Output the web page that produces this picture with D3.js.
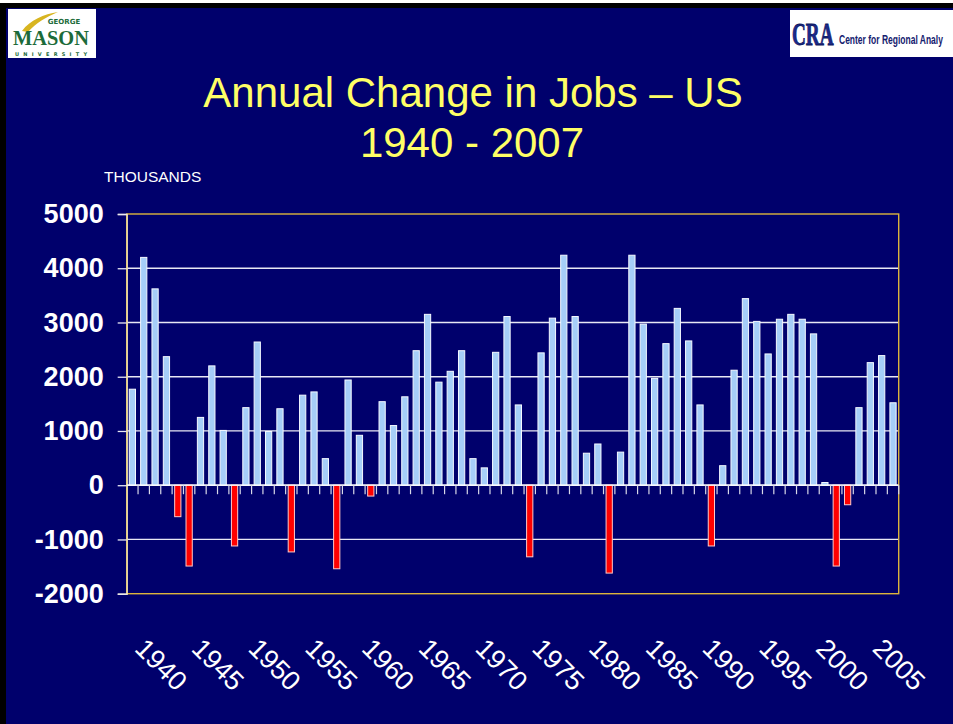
<!doctype html>
<html>
  <head>
    <title>Annual Change in Jobs - US</title>
    <meta charset='UTF-8'>
    <script src="https://d3js.org/d3.v7.min.js"></script>
    <style>
      body { margin: 0; background: #000; }
      svg { display: block; }
      text { font-family: "Liberation Sans", Arial, sans-serif; }
    </style>
  </head>
  <body>
    <svg id='render' width="953" height="724"></svg>
    <script>
      // thousands of jobs, year over year
      const firstYear = 1940;
      const jobChange = [
        1770, 4200, 3620, 2370, -580, -1490, 1250, 2200, 1010, -1120,
        1430, 2640, 990, 1410, -1230, 1660, 1720, 490, -1540, 1940,
        920, -200, 1540, 1100, 1630, 2480, 3150, 1900, 2100, 2480,
        490, 320, 2450, 3110, 1480, -1320, 2440, 3080, 4240, 3110,
        590, 760, -1620, 610, 4240, 2970, 1970, 2610, 3260, 2660,
        1480, -1120, 360, 2120, 3440, 3020, 2420, 3060, 3150, 3060,
        2790, 50, -1490, -360, 1430, 2260, 2390, 1520
      ];
      const years = jobChange.map((v, i) => firstYear + i);
      const yTicks = [-2000, -1000, 0, 1000, 2000, 3000, 4000, 5000];
      const xLabels = [1940, 1945, 1950, 1955, 1960, 1965, 1970, 1975, 1980, 1985, 1990, 1995, 2000, 2005];

      const W = 953, H = 724;
      const plotL = 126.7, plotR = 898.7, plotT = 214, plotB = 593.7;
      const navy = "#00006c";

      const svg = d3.select("#render");
      svg.append("rect").attr("x", 6).attr("y", 8).attr("width", W).attr("height", H).attr("fill", navy);
      svg.append("rect").attr("x", 0).attr("y", 0).attr("width", W).attr("height", 3).attr("fill", "#fff");

      // logos (approximated with text)
      const gmu = svg.append("g");
      gmu.append("rect").attr("x", 8).attr("y", 9).attr("width", 88).attr("height", 49).attr("fill", "#fff");
      gmu.append("path").attr("d", "M22,31 C30,20 44,14 58,12 C46,17 36,23 28,32 Z").attr("fill", "#d8b520");
      gmu.append("text").attr("x", 64).attr("y", 24).attr("text-anchor", "middle")
        .style("font-family", "DejaVu Sans").style("font-size", "7px").style("font-weight", "bold")
        .attr("fill", "#1c6b3a").text("GEORGE");
      gmu.append("text").attr("x", 51).attr("y", 45).attr("text-anchor", "middle")
        .style("font-family", "Liberation Serif").style("font-size", "21px").style("font-weight", "bold")
        .attr("fill", "#1c6b3a").attr("textLength", 76).attr("lengthAdjust", "spacingAndGlyphs").text("MASON");
      gmu.append("text").attr("x", 51).attr("y", 55.5).attr("text-anchor", "middle")
        .style("font-family", "DejaVu Sans").style("font-size", "5px").style("font-weight", "bold")
        .attr("fill", "#1c6b3a").attr("textLength", 72).text("UNIVERSITY");

      const cra = svg.append("g");
      cra.append("rect").attr("x", 790).attr("y", 10).attr("width", 170).attr("height", 47).attr("fill", "#fff");
      cra.append("text").attr("transform", "translate(792,45) scale(0.62,1)")
        .style("font-family", "'Liberation Serif'").style("font-size", "31px").style("font-weight", "bold")
        .attr("fill", "#1a2a8c").attr("stroke", "#0a145a").attr("stroke-width", 0.8)
        .text("CRA");
      cra.append("text").attr("transform", "translate(839,44) scale(0.68,1)")
        .style("font-size", "12.5px").style("font-weight", "bold")
        .attr("fill", "#14206e")
        .text("Center for Regional Analy");

      // title
      svg.append("text").attr("x", 473).attr("y", 107).attr("text-anchor", "middle")
        .style("font-size", "42px").attr("fill", "#ffff66").text("Annual Change in Jobs \u2013 US");
      svg.append("text").attr("x", 472).attr("y", 157).attr("text-anchor", "middle")
        .style("font-size", "42px").attr("fill", "#ffff66").text("1940 - 2007");
      svg.append("text").attr("x", 104).attr("y", 182)
        .style("font-size", "15.5px").attr("fill", "#fff").text("THOUSANDS");

      const x = d3.scaleBand().domain(years).range([plotL, plotR]).paddingInner(0.45).paddingOuter(0.225);
      const y = d3.scaleLinear().domain([-2000, 5000]).range([plotB, plotT]);
      const step = x.step();
      const gap = (step - x.bandwidth()) / 2;

      // gridlines
      svg.append("g").selectAll("line").data(yTicks.filter(t => t > -2000 && t < 5000))
        .enter().append("line")
        .attr("x1", plotL).attr("x2", plotR)
        .attr("y1", d => y(d)).attr("y2", d => y(d))
        .attr("stroke", "#e8e8f4").attr("stroke-width", 1.3);

      // frame
      svg.append("rect").attr("x", plotL).attr("y", plotT).attr("width", plotR - plotL).attr("height", plotB - plotT)
        .attr("fill", "none").attr("stroke", "#dcb43c").attr("stroke-width", 1.4);

      // y axis
      const yAxis = svg.append("g").attr("transform", `translate(${plotL},0)`)
        .call(d3.axisLeft(y).tickValues(yTicks).tickSize(9).tickPadding(14).tickFormat(d => String(d)));
      yAxis.select(".domain").attr("stroke", "#eee2b8").attr("stroke-width", 1.4);
      yAxis.selectAll(".tick line").attr("stroke", "#e8e8f4").attr("stroke-width", 1.3);
      yAxis.selectAll(".tick text").attr("fill", "#fff")
        .style("font-family", "'Liberation Sans', Arial, sans-serif")
        .style("font-size", "27px").style("font-weight", "bold");

      // bars
      svg.append("g").selectAll("rect").data(jobChange)
        .enter().append("rect")
        .attr("x", (d, i) => x(years[i]))
        .attr("width", x.bandwidth())
        .attr("y", d => y(Math.max(0, d)))
        .attr("height", d => Math.abs(y(d) - y(0)))
        .attr("fill", d => d < 0 ? "#ff0000" : "#a6cef8")
        .attr("stroke", d => d < 0 ? "#ffc8c8" : "#f4f8ff")
        .attr("stroke-width", 1);

      // zero line with category ticks
      const zero = svg.append("g");
      zero.append("line").attr("x1", plotL).attr("x2", plotR).attr("y1", y(0)).attr("y2", y(0))
        .attr("stroke", "#fff").attr("stroke-width", 1.3);
      zero.selectAll("line.cat").data(years)
        .enter().append("line").attr("class", "cat")
        .attr("x1", d => x(d) + x.bandwidth() + gap)
        .attr("x2", d => x(d) + x.bandwidth() + gap)
        .attr("y1", y(0)).attr("y2", y(0) + 9)
        .attr("stroke", "#d8d8e8").attr("stroke-width", 1.2);

      // rotated year labels
      svg.append("g").selectAll("text").data(xLabels)
        .enter().append("text")
        .attr("transform", d => `translate(${x(d) + x.bandwidth() / 2 + 1},650) rotate(45)`)
        .style("font-size", "27px").attr("fill", "#fff")
        .text(d => d);
    </script>
  </body>
</html>
